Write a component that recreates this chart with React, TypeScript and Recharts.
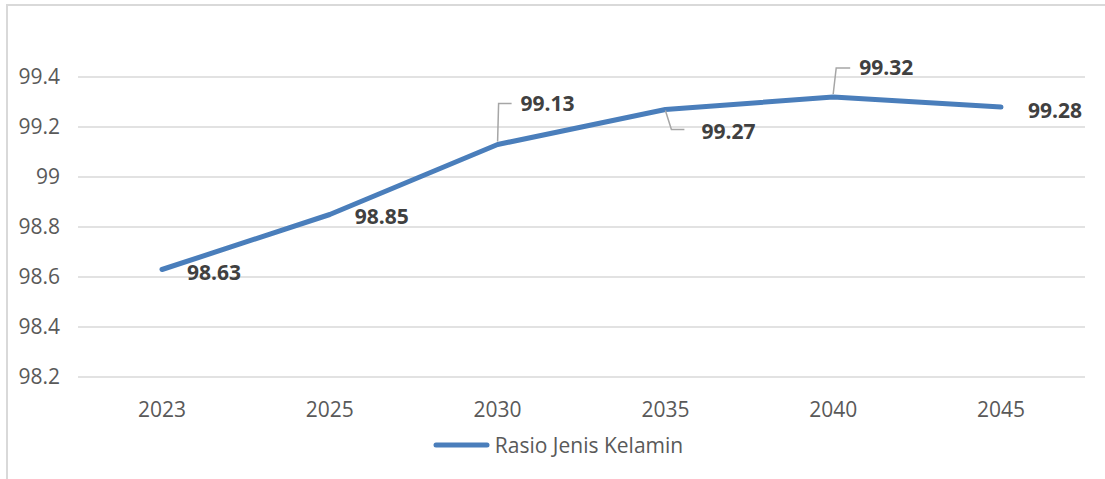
import { LineChart, Line, XAxis, YAxis, CartesianGrid, Legend, LabelList } from "recharts";

const years = ["2023", "2025", "2030", "2035", "2040", "2045"];
const ratio = [98.63, 98.85, 99.13, 99.27, 99.32, 99.28];
const yTicks = [98.2, 98.4, 98.6, 98.8, 99, 99.2, 99.4];

const data = years.map((year, i) => ({ year, value: ratio[i] }));

// label placement relative to each point (text start + optional leader line)
const labelPlacement = [
  { dx: 25, dy: 2, leader: null },
  { dx: 25, dy: 1, leader: null },
  { dx: 23, dy: -42, leader: [[0, -3], [1, -41], [14, -41]] },
  { dx: 36, dy: 21, leader: [[0, 1], [6, 20], [19, 20]] },
  { dx: 26, dy: -30, leader: [[0, -3], [3, -29], [17, -29]] },
  { dx: 27, dy: 3, leader: null },
];

const FONT = "'Open Sans', sans-serif";
const BLUE = "#4a7ebb";

function PointLabel(props: any) {
  const { x, y, value, index } = props;
  const p = labelPlacement[index];
  if (!p) return null;
  return (
    <g>
      {p.leader && (
        <polyline
          points={p.leader.map(([a, b]) => `${x + a},${y + b}`).join(" ")}
          fill="none"
          stroke="#a6a6a6"
          strokeWidth={1.5}
        />
      )}
      <text
        x={x + p.dx}
        y={y + p.dy}
        textAnchor="start"
        dominantBaseline="central"
        fontFamily={FONT}
        fontSize={21}
        fontWeight={700}
        fill="#404040"
      >
        {Number(value).toFixed(2)}
      </text>
    </g>
  );
}

function LegendContent() {
  return (
    <div style={{ display: "flex", justifyContent: "center", alignItems: "center", fontFamily: FONT }}>
      <svg width={63} height={12}>
        <line x1={4} y1={6} x2={55} y2={6} stroke={BLUE} strokeWidth={5} strokeLinecap="round" />
      </svg>
      <span style={{ fontSize: 21, color: "#595959" }}>Rasio Jenis Kelamin</span>
    </div>
  );
}

export default function App() {
  return (
    <div style={{ position: "absolute", left: 0, top: 0, width: 1105, height: 479, background: "#fff", overflow: "hidden" }}>
      <div
        style={{
          position: "absolute",
          left: 6,
          top: 4,
          width: 1110,
          height: 490,
          borderLeft: "2px solid #d9d9d9",
          borderTop: "2px solid #d9d9d9",
        }}
      />
      <LineChart
        width={1105}
        height={479}
        data={data}
        margin={{ top: 77, right: 20, bottom: 72, left: 0 }}
        style={{ position: "absolute", left: 0, top: 0, fontFamily: FONT }}
      >
        <CartesianGrid vertical={false} stroke="#d9d9d9" strokeWidth={1.5} />
        <XAxis
          dataKey="year"
          axisLine={false}
          tickLine={false}
          height={30}
          tickMargin={19}
          padding={{ left: 84, right: 84 }}
          tick={{ fontSize: 21, fill: "#595959", fontFamily: FONT }}
          interval={0}
        />
        <YAxis
          domain={[98.2, 99.4]}
          ticks={yTicks}
          width={78}
          axisLine={false}
          tickLine={false}
          tickMargin={12}
          allowDataOverflow
          tick={{ fontSize: 21, fill: "#595959", fontFamily: FONT }}
          tickFormatter={(v) => String(Number(v.toFixed(1)))}
        />
        <Legend
          verticalAlign="middle"
          align="center"
          content={<LegendContent />}
          wrapperStyle={{ top: 431, left: 5, width: 1105 }}
        />
        <Line
          type="linear"
          dataKey="value"
          name="Rasio Jenis Kelamin"
          stroke={BLUE}
          strokeWidth={5}
          strokeLinecap="round"
          strokeLinejoin="round"
          dot={false}
          isAnimationActive={false}
        >
          <LabelList dataKey="value" content={<PointLabel />} />
        </Line>
      </LineChart>
    </div>
  );
}
